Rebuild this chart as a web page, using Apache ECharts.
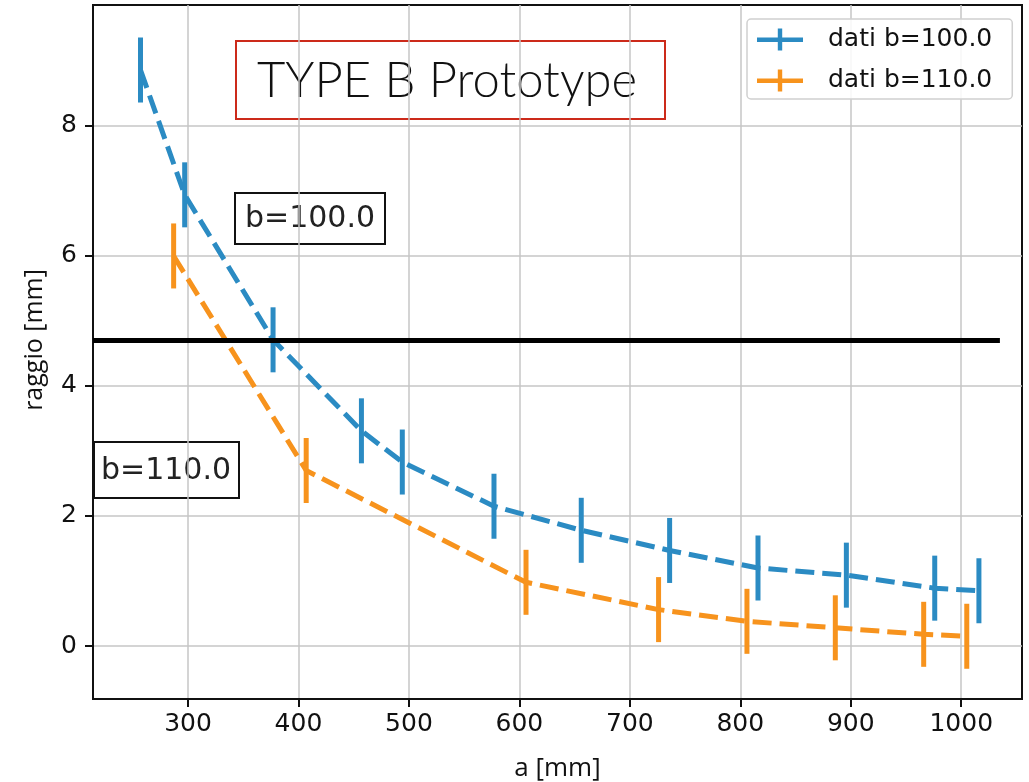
<!DOCTYPE html>
<html>
    <head>
        <meta charset="utf-8">
        <script src="https://cdn.jsdelivr.net/npm/echarts@6/dist/echarts.min.js"></script>
    </head>
    <body style="margin:0">
        <style>
            html, body, #main {
                width: 1029px;
                height: 782px;
                background: #fff;
            }
        </style>
        <div id="main"></div>
        <script>
            // dati b=100.0
            var aB100 = [257, 297, 377, 457, 494, 577, 656, 736, 816, 896, 976, 1016];
            var rB100 = [8.86, 6.94, 4.71, 3.31, 2.83, 2.15, 1.78, 1.47, 1.20, 1.09, 0.89, 0.85];
            var eB100 = [0.5, 0.5, 0.5, 0.5, 0.5, 0.5, 0.5, 0.5, 0.5, 0.5, 0.5, 0.5];

            // dati b=110.0
            var aB110 = [287, 407, 606, 726, 806, 886, 966, 1005];
            var rB110 = [6.00, 2.70, 0.98, 0.56, 0.38, 0.28, 0.18, 0.15];
            var eB110 = [0.5, 0.5, 0.5, 0.5, 0.5, 0.5, 0.5, 0.5];

            var xTicks = [300, 400, 500, 600, 700, 800, 900, 1000];
            var yTicks = [0, 2, 4, 6, 8];
            var soglia = 4.71;

            var blue = '#2b8bc3';
            var orange = '#f7931d';

            function pairs(xs, ys) {
                return xs.map(function (x, i) { return [x, ys[i]]; });
            }
            function triples(xs, ys, es) {
                return xs.map(function (x, i) { return [x, ys[i], es[i]]; });
            }

            function renderErr(params, api) {
                var x = api.value(0), y = api.value(1), e = api.value(2);
                var p1 = api.coord([x, y - e]);
                var p2 = api.coord([x, y + e]);
                return {
                    type: 'line',
                    shape: { x1: p1[0], y1: p1[1], x2: p2[0], y2: p2[1] },
                    style: { stroke: api.visual('color'), lineWidth: 5 }
                };
            }

            var crossIcon = 'path://M0,9L46,9L46,13.5L0,13.5Z M20.8,0L25.2,0L25.2,22L20.8,22Z';

            var chart = echarts.init(document.getElementById('main'));

            chart.setOption({
                animation: false,
                backgroundColor: '#fff',
                grid: {
                    left: 93, right: 7, top: 5, bottom: 83,
                    outerBoundsMode: 'none',
                    containLabel: false,
                    show: true, borderColor: '#111', borderWidth: 2,
                    backgroundColor: 'transparent'
                },
                legend: {
                    left: 747, top: 19,
                    orient: 'vertical',
                    padding: [8, 20, 6, 10],
                    itemGap: 16,
                    itemWidth: 46, itemHeight: 22,
                    backgroundColor: 'rgba(255,255,255,0.85)',
                    borderColor: '#d0d0d0', borderWidth: 1.5, borderRadius: 4,
                    textStyle: { fontFamily: 'DejaVu Sans', fontSize: 25, color: '#111', padding: [0, 0, 0, 20] },
                    data: [
                        { name: 'dati b=100.0', icon: crossIcon, itemStyle: { color: blue } },
                        { name: 'dati b=110.0', icon: crossIcon, itemStyle: { color: orange } }
                    ]
                },
                xAxis: {
                    type: 'value',
                    min: 214, max: 1055,
                    name: 'a [mm]',
                    nameLocation: 'middle',
                    nameGap: 57,
                    nameTextStyle: { fontFamily: 'Open Sans', fontSize: 26, color: '#111' },
                    axisLine: { show: true, onZero: false, lineStyle: { color: '#111', width: 2 } },
                    axisTick: { show: true, inside: false, length: 8, customValues: xTicks, lineStyle: { color: '#111', width: 2 } },
                    axisLabel: {
                        customValues: xTicks, margin: 13,
                        fontFamily: 'DejaVu Sans', fontSize: 25, color: '#111',
                        formatter: function (v) { return String(v); }
                    },
                    splitLine: { show: true, lineStyle: { color: '#c6c6c6', width: 1.5 } }
                },
                yAxis: {
                    type: 'value',
                    min: -0.815, max: 9.86,
                    name: 'raggio [mm]',
                    nameLocation: 'middle',
                    nameGap: 46,
                    nameTextStyle: { fontFamily: 'Open Sans', fontSize: 25, color: '#111', padding: [0, 0, 0, 24] },
                    axisLine: { show: true, onZero: false, lineStyle: { color: '#111', width: 2 } },
                    axisTick: { show: true, inside: false, length: 8, customValues: yTicks, lineStyle: { color: '#111', width: 2 } },
                    axisLabel: {
                        customValues: yTicks, margin: 16,
                        fontFamily: 'DejaVu Sans', fontSize: 25, color: '#111',
                        formatter: function (v) { return String(v); }
                    },
                    splitLine: { show: true, lineStyle: { color: '#c6c6c6', width: 1.5 } }
                },
                graphic: [
                    {
                        type: 'group', left: 235, top: 40, z: 100,
                        children: [
                            { type: 'rect', shape: { x: 0, y: 0, width: 429, height: 78 },
                              style: { fill: '#fff', stroke: '#cc2a1a', lineWidth: 2 } },
                            { type: 'text', x: 211, y: 40,
                              style: { text: 'TYPE B Prototype', fontFamily: 'Lato', fontWeight: 300, fontSize: 49,
                                       fill: '#111', align: 'center', verticalAlign: 'middle' } }
                        ]
                    },
                    {
                        type: 'group', left: 234, top: 192, z: 100,
                        children: [
                            { type: 'rect', shape: { x: 0, y: 0, width: 150, height: 51 },
                              style: { fill: '#fff', stroke: '#111', lineWidth: 2 } },
                            { type: 'text', x: 75, y: 26,
                              style: { text: 'b=100.0', fontFamily: 'DejaVu Sans', fontSize: 30,
                                       fill: '#222', align: 'center', verticalAlign: 'middle' } }
                        ]
                    },
                    {
                        type: 'group', left: 93, top: 441, z: 100,
                        children: [
                            { type: 'rect', shape: { x: 0, y: 0, width: 145, height: 56 },
                              style: { fill: '#fff', stroke: '#111', lineWidth: 2 } },
                            { type: 'text', x: 72, y: 29,
                              style: { text: 'b=110.0', fontFamily: 'DejaVu Sans', fontSize: 30,
                                       fill: '#222', align: 'center', verticalAlign: 'middle' } }
                        ]
                    }
                ],
                series: [
                    {
                        name: 'dati b=100.0',
                        type: 'line',
                        data: pairs(aB100, rB100),
                        showSymbol: false,
                        symbol: 'none',
                        itemStyle: { color: blue },
                        lineStyle: { color: blue, width: 5, type: [19, 8] },
                        z: 3,
                        markLine: {
                            silent: true,
                            symbol: ['none', 'none'],
                            label: { show: false },
                            lineStyle: { color: '#000', width: 5, type: 'solid' },
                            data: [[{ coord: [214, soglia] }, { coord: [1035, soglia] }]]
                        }
                    },
                    {
                        name: 'dati b=110.0',
                        type: 'line',
                        data: pairs(aB110, rB110),
                        showSymbol: false,
                        symbol: 'none',
                        itemStyle: { color: orange },
                        lineStyle: { color: orange, width: 5, type: [19, 8] },
                        z: 3
                    },
                    {
                        name: 'dati b=100.0',
                        type: 'custom',
                        renderItem: renderErr,
                        itemStyle: { color: blue },
                        encode: { x: 0, y: 1 },
                        data: triples(aB100, rB100, eB100),
                        z: 4
                    },
                    {
                        name: 'dati b=110.0',
                        type: 'custom',
                        renderItem: renderErr,
                        itemStyle: { color: orange },
                        encode: { x: 0, y: 1 },
                        data: triples(aB110, rB110, eB110),
                        z: 4
                    }
                ]
            });
        </script>
    </body>
</html>
